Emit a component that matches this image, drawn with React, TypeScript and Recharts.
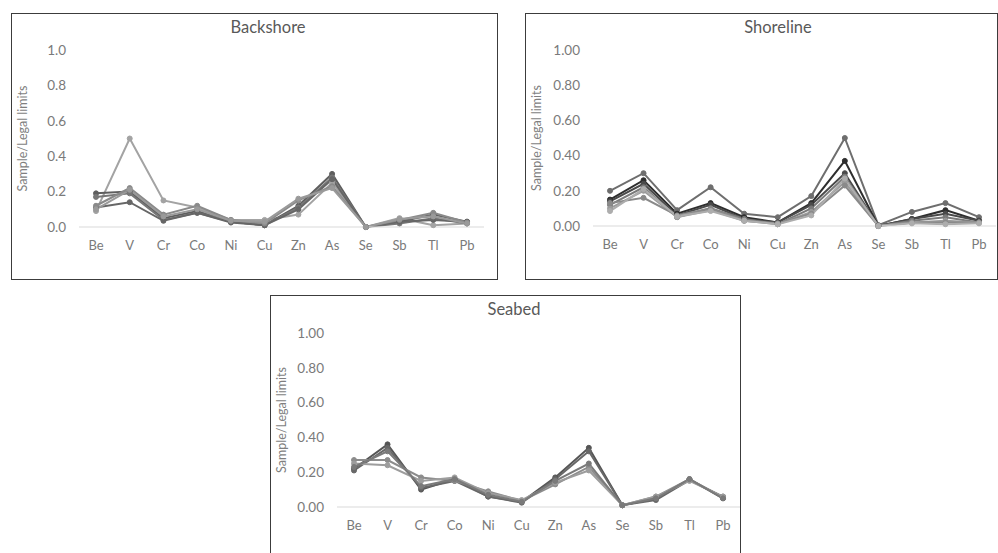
import React from "react";
import { LineChart, Line, XAxis, YAxis, CartesianGrid } from "recharts";

// Sample / legal-limit ratios per element, three sampling zones.
// Each array is one sample line, in the order of `elements`.

const elements = ["Be", "V", "Cr", "Co", "Ni", "Cu", "Zn", "As", "Se", "Sb", "Tl", "Pb"];
const yTicks = [0, 0.2, 0.4, 0.6, 0.8, 1.0];

const backshore1 = [0.09, 0.5, 0.15, 0.11, 0.04, 0.04, 0.07, 0.25, 0.0, 0.05, 0.01, 0.02];
const backshore2 = [0.19, 0.2, 0.05, 0.09, 0.03, 0.01, 0.12, 0.3, 0.0, 0.03, 0.07, 0.03];
const backshore3 = [0.17, 0.19, 0.04, 0.08, 0.03, 0.01, 0.11, 0.28, 0.0, 0.02, 0.05, 0.02];
const backshore4 = [0.11, 0.14, 0.035, 0.08, 0.025, 0.01, 0.1, 0.27, 0.0, 0.03, 0.04, 0.03];
const backshore5 = [0.12, 0.22, 0.07, 0.12, 0.04, 0.02, 0.15, 0.23, 0.0, 0.04, 0.08, 0.025];
const backshore6 = [0.1, 0.21, 0.06, 0.1, 0.035, 0.03, 0.16, 0.22, 0.0, 0.045, 0.06, 0.02];

const shoreline1 = [0.2, 0.3, 0.09, 0.22, 0.07, 0.05, 0.17, 0.5, 0.005, 0.08, 0.13, 0.05];
const shoreline2 = [0.15, 0.26, 0.07, 0.13, 0.05, 0.02, 0.13, 0.37, 0.0, 0.04, 0.09, 0.03];
const shoreline3 = [0.14, 0.24, 0.06, 0.12, 0.04, 0.02, 0.12, 0.3, 0.0, 0.04, 0.07, 0.03];
const shoreline4 = [0.12, 0.22, 0.05, 0.1, 0.04, 0.01, 0.1, 0.28, 0.0, 0.03, 0.05, 0.02];
const shoreline5 = [0.1, 0.2, 0.05, 0.09, 0.03, 0.01, 0.08, 0.25, 0.0, 0.02, 0.03, 0.02];
const shoreline6 = [0.13, 0.16, 0.06, 0.1, 0.03, 0.015, 0.07, 0.23, 0.0, 0.02, 0.02, 0.02];
const shoreline7 = [0.085, 0.21, 0.055, 0.085, 0.03, 0.01, 0.06, 0.27, 0.0, 0.015, 0.01, 0.015];

const seabed1 = [0.22, 0.36, 0.1, 0.16, 0.06, 0.03, 0.17, 0.34, 0.01, 0.05, 0.16, 0.05];
const seabed2 = [0.21, 0.34, 0.11, 0.15, 0.06, 0.025, 0.16, 0.32, 0.01, 0.04, 0.155, 0.06];
const seabed3 = [0.27, 0.27, 0.17, 0.15, 0.09, 0.035, 0.13, 0.23, 0.01, 0.06, 0.16, 0.055];
const seabed4 = [0.25, 0.24, 0.15, 0.17, 0.08, 0.04, 0.14, 0.21, 0.01, 0.06, 0.15, 0.06];
const seabed5 = [0.23, 0.32, 0.12, 0.16, 0.07, 0.03, 0.15, 0.25, 0.01, 0.05, 0.16, 0.05];

const backshoreColors = ["#a3a3a3", "#5e5e5e", "#777777", "#666666", "#8a8a8a", "#9a9a9a"];
const shorelineColors = ["#6e6e6e", "#2e2e2e", "#4a4a4a", "#7a7a7a", "#9c9c9c", "#8a8a8a", "#adadad"];
const seabedColors = ["#555555", "#686868", "#8c8c8c", "#9d9d9d", "#7a7a7a"];

function toRows(series: number[][]) {
  return elements.map((el, i) => {
    const row: Record<string, string | number> = { el };
    series.forEach((s, k) => (row["s" + k] = s[i]));
    return row;
  });
}

const FONT = "Lato, 'Open Sans', sans-serif";

interface PanelProps {
  title: string;
  left: number;
  top: number;
  width: number;
  height: number;
  titleX: number; // relative to box
  plot: { top: number; right: number; bottom: number; yWidth: number };
  series: number[][];
  colors: string[];
  decimals: number;
}

function Panel(p: PanelProps) {
  const rows = toRows(p.series);
  return (
    <div
      style={{
        position: "absolute",
        left: p.left,
        top: p.top,
        width: p.width,
        height: p.height,
        border: "1.5px solid #3c3c3c",
        boxSizing: "border-box",
        background: "#fff",
      }}
    >
      <div
        style={{
          position: "absolute",
          left: p.titleX - 100,
          width: 200,
          top: 3,
          textAlign: "center",
          fontFamily: FONT,
          fontSize: 16.5,
          color: "#595959",
        }}
      >
        {p.title}
      </div>
      <div style={{ position: "absolute", left: -1.5, top: -1.5 }}>
        <LineChart
          width={p.width}
          height={p.height}
          data={rows}
          margin={{ top: p.plot.top, right: p.plot.right, left: 0, bottom: 0 }}
        >
          <CartesianGrid horizontal={false} vertical={false} />
          <XAxis
            dataKey="el"
            height={p.plot.bottom}
            padding={{ left: 17, right: 17 }}
            axisLine={{ stroke: "#d9d9d9" }}
            tickLine={false}
            tickMargin={8}
            tick={{ fill: "#7a7a7a", fontSize: 13, fontFamily: FONT }}
            interval={0}
          />
          <YAxis
            domain={[0, 1]}
            ticks={yTicks}
            width={p.plot.yWidth}
            axisLine={false}
            tickLine={false}
            tickMargin={7}
            tickFormatter={(v: number) => v.toFixed(p.decimals)}
            tick={{ fill: "#7a7a7a", fontSize: 13.5, fontFamily: FONT }}
            label={{
              value: "Sample/Legal limits",
              angle: -90,
              position: "insideLeft",
              offset: 12,
              style: { textAnchor: "middle", fill: "#7f7f7f", fontSize: 12.5, fontFamily: FONT },
            }}
          />
          {p.series.map((_, k) => (
            <Line
              key={k}
              dataKey={"s" + k}
              stroke={p.colors[k]}
              strokeWidth={2}
              dot={{ r: 2.5, fill: p.colors[k], stroke: p.colors[k], strokeWidth: 1 }}
              isAnimationActive={false}
            />
          ))}
        </LineChart>
      </div>
    </div>
  );
}

export default function App() {
  return (
    <div
      style={{
        position: "absolute",
        left: 0,
        top: 0,
        width: 998,
        height: 553,
        overflow: "hidden",
        background: "#fff",
      }}
    >
      <Panel
        title="Backshore"
        left={11}
        top={13}
        width={487}
        height={267}
        titleX={256}
        plot={{ top: 37, right: 14, bottom: 53, yWidth: 68 }}
        series={[backshore1, backshore2, backshore3, backshore4, backshore5, backshore6]}
        colors={backshoreColors}
        decimals={1}
      />
      <Panel
        title="Shoreline"
        left={525}
        top={13}
        width={473}
        height={267}
        titleX={252}
        plot={{ top: 37, right: 2, bottom: 54, yWidth: 68 }}
        series={[shoreline1, shoreline2, shoreline3, shoreline4, shoreline5, shoreline6, shoreline7]}
        colors={shorelineColors}
        decimals={2}
      />
      <Panel
        title="Seabed"
        left={270}
        top={295}
        width={471}
        height={280}
        titleX={243}
        plot={{ top: 38, right: 1, bottom: 68, yWidth: 67 }}
        series={[seabed1, seabed2, seabed3, seabed4, seabed5]}
        colors={seabedColors}
        decimals={2}
      />
    </div>
  );
}
